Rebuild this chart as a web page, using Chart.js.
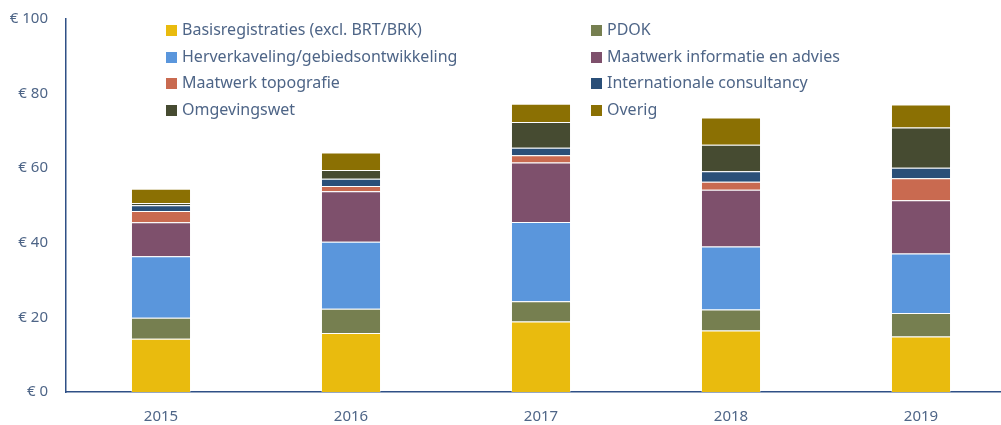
<!DOCTYPE html>
<html>
<head>
<meta charset="utf-8">
<script src="https://cdn.jsdelivr.net/npm/chart.js@4"></script>
<style>
    html, body { margin: 0; padding: 0; background: #fff; overflow: hidden; }
    #wrap { position: relative; width: 1017px; height: 425px; }
    #legend { position: absolute; left: 166px; top: 19px; width: 800px;
        font-family: 'Noto Sans', sans-serif; font-size: 16px; color: #4e6587; }
    .item { position: absolute; white-space: nowrap; line-height: 20px; }
    .box { display: inline-block; width: 11px; height: 11px; margin-right: 5px; vertical-align: -1px; }
</style>
</head>
<body>
<div id="wrap">
    <canvas id="chart" width="1017" height="425"></canvas>
    <div id="legend"></div>
</div>
<script>
const years = ['2015', '2016', '2017', '2018', '2019'];
const seriesNames = [
    'Basisregistraties (excl. BRT/BRK)', 'PDOK',
    'Herverkaveling/gebiedsontwikkeling', 'Maatwerk informatie en advies',
    'Maatwerk topografie', 'Internationale consultancy',
    'Omgevingswet', 'Overig'
];
const basis     = [14.3, 15.8, 18.9, 16.5, 14.9];
const pdok      = [5.6, 6.5, 5.4, 5.6, 6.3];
const herverk   = [16.5, 18.0, 21.3, 16.9, 15.9];
const maatInfo  = [9.1, 13.5, 15.9, 15.2, 14.3];
const maatTopo  = [3.0, 1.4, 2.0, 2.2, 5.9];
const intl      = [1.6, 2.0, 2.0, 2.8, 2.8];
const omgeving  = [0.6, 2.3, 6.9, 7.1, 10.8];
const overig    = [3.8, 4.7, 4.9, 7.3, 6.2];
const yTicks = [0, 20, 40, 60, 80, 100];

const seriesValues = [basis, pdok, herverk, maatInfo, maatTopo, intl, omgeving, overig];
const colors = ['#e9bb0e', '#767f50', '#5a96dc', '#7e506c', '#c96a50', '#2a4f78', '#464b31', '#8b7003'];

const textColor = '#4e6587';
const axisColor = '#2f5086';

const datasets = seriesNames.map((name, i) => ({
    label: name,
    data: seriesValues[i],
    backgroundColor: colors[i],
    borderColor: 'rgba(255, 255, 255, 0.3)',
    borderWidth: 1,
    barPercentage: 0.316,
    categoryPercentage: 1
}));

new Chart(document.getElementById('chart'), {
    type: 'bar',
    data: { labels: years, datasets: datasets },
    options: {
        responsive: false,
        animation: false,
        layout: { padding: { top: 6, right: 1, left: 0, bottom: 0 } },
        plugins: { legend: { display: false }, tooltip: { enabled: false } },
        scales: {
            x: {
                stacked: true,
                grid: { display: false },
                border: { color: axisColor, width: 1.5 },
                ticks: { color: textColor, font: { family: 'Noto Sans', size: 15 }, padding: 8 },
                afterFit: function(scale) { scale.height = 33; }
            },
            y: {
                stacked: true,
                min: 0,
                max: 100,
                grid: { display: false },
                border: { color: axisColor, width: 1.5 },
                afterBuildTicks: function(scale) { scale.ticks = yTicks.map(v => ({ value: v })); },
                ticks: {
                    color: textColor,
                    font: { family: 'Noto Sans', size: 15 },
                    padding: 10,
                    callback: function(v) { return '€ ' + v; }
                },
                afterFit: function(scale) { scale.width = 66; }
            }
        }
    }
});

// two column legend, row by row like the original
const legend = document.getElementById('legend');
seriesNames.forEach((name, i) => {
    const el = document.createElement('div');
    el.className = 'item';
    el.style.left = (i % 2 === 0 ? 0 : 425) + 'px';
    el.style.top = (Math.floor(i / 2) * 26.7) + 'px';
    el.innerHTML = '<span class="box" style="background:' + colors[i] + '"></span>' + name;
    legend.appendChild(el);
});
</script>
</body>
</html>
